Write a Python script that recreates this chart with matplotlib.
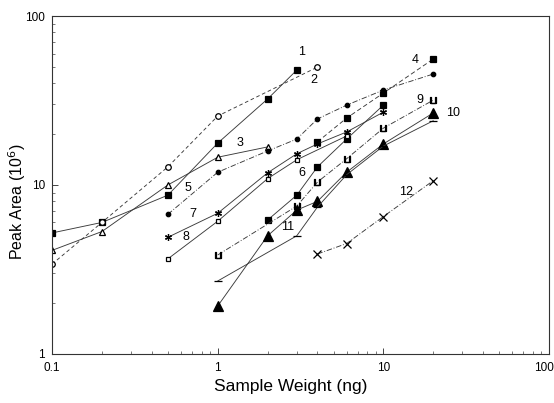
import matplotlib
matplotlib.use("Agg")
import matplotlib.pyplot as plt
import matplotlib.transforms as mtransforms
from matplotlib.ticker import FixedLocator, FixedFormatter, LogLocator, NullFormatter

plt.rcParams['font.family'] = ['Liberation Sans', 'DejaVu Sans']

# sample weight (ng) and peak area (10^6) for each compound
x1 = [0.1, 0.2, 0.5, 1, 2, 3]
y1 = [5.2, 6.0, 8.7, 17.7, 32.3, 47.9]
x2 = [0.1, 0.2, 0.5, 1, 4]
y2 = [3.4, 6.0, 12.8, 25.6, 49.9]
x3 = [0.1, 0.2, 0.5, 1, 2]
y3 = [4.1, 5.3, 10.0, 14.6, 16.8]
x4 = [4, 6, 10, 20]
y4 = [18.0, 24.9, 35.0, 55.7]
x5 = [0.5, 1, 2, 3, 4, 6, 10, 20]
y5 = [6.7, 11.9, 15.9, 18.7, 24.6, 29.7, 36.5, 45.4]
x6 = [2, 3, 4, 6, 10]
y6 = [6.2, 8.7, 12.8, 18.7, 29.7]
x7 = [0.5, 1, 2, 3, 4, 6, 10]
y7 = [4.9, 6.8, 11.8, 15.3, 17.5, 20.6, 27.0]
x8 = [0.5, 1, 2, 3, 6]
y8 = [3.65, 6.1, 10.9, 14.1, 19.5]
x9 = [1, 3, 4, 6, 10, 20]
y9 = [3.85, 7.5, 10.4, 14.3, 21.7, 31.8]
x10 = [1, 2, 3, 4, 6, 10, 20]
y10 = [1.92, 5.0, 7.1, 8.0, 11.9, 17.5, 26.7]
x11 = [1, 3, 4, 6, 10, 20]
y11 = [2.7, 5.0, 7.4, 11.5, 17.0, 24.0]
x12 = [4, 6, 10, 20]
y12 = [3.9, 4.5, 6.5, 10.6]

series = [
    (x1, y1, dict(marker='s', ms=4.5, mfc='black', ls='-')),
    (x2, y2, dict(marker='o', ms=4, mfc='white', ls=(0, (4, 3)))),
    (x3, y3, dict(marker='^', ms=4.5, mfc='white', ls='-')),
    (x4, y4, dict(marker='s', ms=5, mfc='black', ls=(0, (5, 3)))),
    (x5, y5, dict(marker='o', ms=3.2, mfc='black', ls=(0, (6, 2, 1, 2)))),
    (x6, y6, dict(marker='s', ms=5, mfc='black', ls='-')),
    (x7, y7, dict(marker=(6, 2, 0), ms=5, mfc='black', ls='-')),
    (x8, y8, dict(marker='s', ms=3.5, mfc='white', ls='-')),
    (x9, y9, dict(marker='$\\sqcup$', ms=5, mfc='black', ls=(0, (6, 2, 1, 2)))),
    (x10, y10, dict(marker='^', ms=7.5, mfc='black', ls='-')),
    (x11, y11, dict(marker='_', ms=6, mfc='black', ls='-')),
    (x12, y12, dict(marker='x', ms=5.5, mfc='black', ls=(0, (6, 2, 1, 2)))),
]

# curve numbers and where they sit
curve_names = ['1', '2', '3', '4', '5', '6', '7', '8', '9', '10', '11', '12']
name_pos = [(3.2, 61), (3.8, 42), (1.36, 17.7), (15.6, 55), (0.66, 9.6), (3.2, 11.8),
            (0.71, 6.7), (0.64, 4.9), (16.7, 32), (26.5, 26.7), (2.64, 5.6), (13.8, 9.1)]

fig = plt.figure(figsize=(5.54, 4.03), dpi=100)
ax = fig.add_axes([0.094, 0.122, 0.897, 0.838])

for xs, ys, st in series:
    ax.plot(xs, ys, color='#3a3a3a', lw=0.65, mec='black', mew=0.9, **st)

for name, (tx, ty) in zip(curve_names, name_pos):
    ax.text(tx, ty, name, fontsize=9, ha='center', va='center')

ax.set_xscale('log')
ax.set_yscale('log')
ax.set_xlim(0.1, 100)
ax.set_ylim(1, 100)

ax.xaxis.set_major_locator(FixedLocator([0.1, 1, 10, 100]))
ax.xaxis.set_major_formatter(FixedFormatter(['0.1', '1', '10', '100']))
ax.yaxis.set_major_locator(FixedLocator([1, 10, 100]))
ax.yaxis.set_major_formatter(FixedFormatter(['1', '10', '100']))
for axis in (ax.xaxis, ax.yaxis):
    axis.set_minor_locator(LogLocator(base=10, subs=range(2, 10)))
    axis.set_minor_formatter(NullFormatter())

ax.tick_params(which='both', direction='in', labelsize=8.5, color='#444444')
ax.tick_params(axis='x', pad=6)
ax.tick_params(axis='y', pad=5)
ax.tick_params(which='major', length=4, width=0.7)
ax.tick_params(which='minor', length=2, width=0.5)
for sp in ax.spines.values():
    sp.set_linewidth(0.8)
    sp.set_color('#333333')

# keep the last x tick label inside the figure
fig.canvas.draw()
last = ax.get_xticklabels()[-1]
last.set_transform(last.get_transform() + mtransforms.ScaledTranslation(-5 / 100, 0, fig.dpi_scale_trans))

ax.set_xlabel('Sample Weight (ng)', fontsize=12.5)
ax.set_ylabel('Peak Area (10$^6$)', fontsize=11.5)
ax.xaxis.set_label_coords(0.481, -0.074)
ax.yaxis.set_label_coords(-0.048, 0.45)

fig.savefig('out.png', dpi=100)
